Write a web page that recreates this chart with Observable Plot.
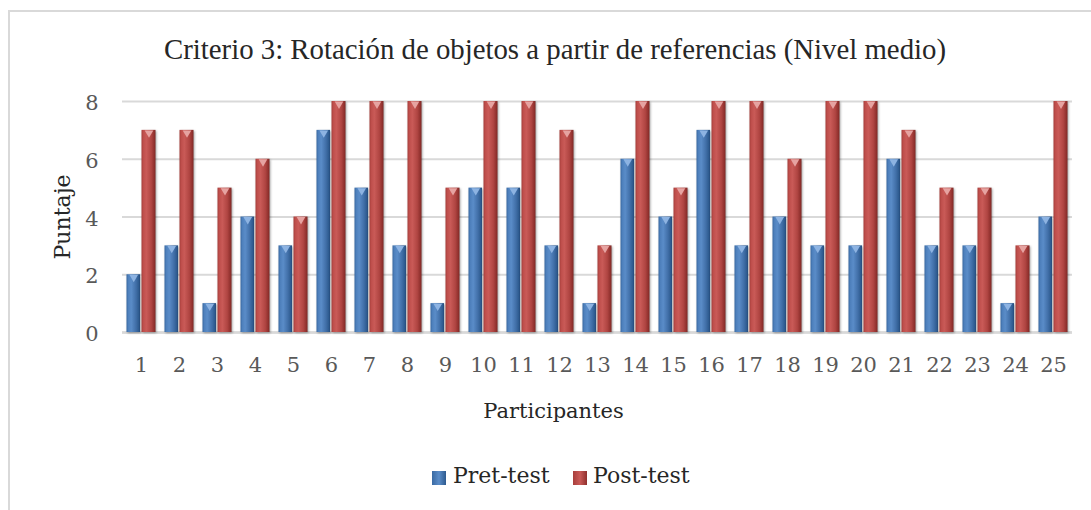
<!DOCTYPE html>
<html><head><meta charset="utf-8">
<script src="https://cdn.jsdelivr.net/npm/d3@7"></script>
<script src="https://cdn.jsdelivr.net/npm/@observablehq/plot@0.6"></script>
<style>
body{margin:0;background:#fff;}
#wrap{position:relative;width:1091px;height:510px;overflow:hidden;background:#fff;}
#frame{position:absolute;left:8px;top:10px;width:1200px;height:600px;border-top:2px solid #d9d9d9;border-left:2px solid #d9d9d9;box-sizing:border-box;}
#title{position:absolute;left:0;width:1110px;top:35px;text-align:center;font-family:"Liberation Serif";font-size:28.8px;line-height:29px;color:#262626;white-space:nowrap;}
#chart{position:absolute;left:0;top:0;}
.leg{position:absolute;font-family:"DejaVu Serif";font-size:22px;line-height:22px;color:#262626;white-space:nowrap;}
.sw{position:absolute;width:14px;height:14px;}
#chart g[aria-label="y-axis tick label"] text, #chart g[aria-label="x-axis tick label"] text{fill:#595959;}
#chart g[aria-label="y-axis label"] text{fill:#262626;}
#chart g[aria-label="bar"]{filter:drop-shadow(1.5px 1px 1px rgba(0,0,0,0.35));}
</style>
</head><body>
<div id="wrap">
  <div id="frame"></div>
  <div id="title">Criterio 3: Rotación de objetos a partir de referencias (Nivel medio)</div>
  <div id="chart"></div>
  <div id="legend"></div>
</div>
<script>
const participants = ["1","2","3","4","5","6","7","8","9","10","11","12","13","14","15","16","17","18","19","20","21","22","23","24","25"];
const pretest  = [2,3,1,4,3,7,5,3,1,5,5,3,1,6,4,7,3,4,3,3,6,3,3,1,4];
const posttest = [7,7,5,6,4,8,8,8,5,8,8,7,3,8,5,8,8,6,8,8,7,5,5,3,8];
const yTicks = [0,2,4,6,8];
const seriesNames = ["Pret-test","Post-test"];
const xTitle = "Participantes";
const yTitle = "Puntaje";

const preData = participants.map((p,i)=>({participant:p, value:pretest[i], series:seriesNames[0]}));
const postData = participants.map((p,i)=>({participant:p, value:posttest[i], series:seriesNames[1]}));

const svg = Plot.plot({
  width:1091, height:440,
  marginTop:101, marginBottom:108, marginLeft:122, marginRight:19,
  style:{fontFamily:"DejaVu Serif", fontSize:"21px", background:"transparent", overflow:"visible"},
  x:{domain:participants, padding:0},
  y:{domain:[0,8]},
  marks:[
    Plot.gridY(yTicks, {stroke:"#d9d9d9", strokeOpacity:1, strokeWidth:2}),
    Plot.ruleY([0], {stroke:"#d9d9d9", strokeWidth:2.5}),
    Plot.barY(preData, {x:"participant", y:"value", fill:"url(#gBlue)", insetLeft:4.5, insetRight:20}),
    Plot.barY(postData, {x:"participant", y:"value", fill:"url(#gRed)", insetLeft:19.5, insetRight:4.5}),
    Plot.dot(preData, {x:"participant", y:"value", symbol:"triangle", rotate:180, r:3.2, fill:"#8db3e2", dx:-7.75, dy:2.5, stroke:"none"}),
    Plot.dot(postData, {x:"participant", y:"value", symbol:"triangle", rotate:180, r:3.2, fill:"#e6a3a1", dx:7.5, dy:2.5, stroke:"none"}),
    Plot.axisY(yTicks, {tickSize:0, tickPadding:24, label:null, fontSize:21, dy:2}),
    Plot.axisY({ticks:[], tickSize:0, label:yTitle, labelArrow:"none", labelAnchor:"center", labelOffset:68, fontSize:22}),
    Plot.axisX({tickSize:0, tickPadding:25, label:null, fontSize:21}),
    Plot.text([xTitle], {text:d=>d, frameAnchor:"bottom", dx:-44, dy:85, fontSize:21, fill:"#262626"})
  ]
});

const ns = "http://www.w3.org/2000/svg";
const defs = document.createElementNS(ns, "defs");
function grad(id, stops){
  const g = document.createElementNS(ns, "linearGradient");
  g.setAttribute("id", id);
  g.setAttribute("x1","0"); g.setAttribute("x2","1"); g.setAttribute("y1","0"); g.setAttribute("y2","0");
  stops.forEach(([o,c])=>{
    const s = document.createElementNS(ns, "stop");
    s.setAttribute("offset", o); s.setAttribute("stop-color", c);
    g.appendChild(s);
  });
  defs.appendChild(g);
}
grad("gBlue", [[0,"#3a6aa3"],[0.15,"#4f81bd"],[0.35,"#5a8cc8"],[0.7,"#416fa8"],[0.92,"#2d5a8e"],[1,"#24497a"]]);
grad("gRed", [[0,"#a83f3c"],[0.15,"#c0504d"],[0.35,"#c95a57"],[0.7,"#b04542"],[0.92,"#8f302d"],[1,"#7a2522"]]);
svg.insertBefore(defs, svg.firstChild);
document.getElementById("chart").appendChild(svg);

// legend
const legend = document.getElementById("legend");
const legPos = [{sw:432, tx:453}, {sw:573, tx:593}];
seriesNames.forEach((name,i)=>{
  const sw = document.createElement("div");
  sw.className = "sw";
  sw.style.left = legPos[i].sw + "px";
  sw.style.top = "471px";
  sw.style.background = `linear-gradient(to right, ${i? "#a83f3c,#c95a57,#8f302d" : "#3a6aa3,#5a8cc8,#2d5a8e"})`;
  legend.appendChild(sw);
  const t = document.createElement("div");
  t.className = "leg";
  t.style.left = legPos[i].tx + "px";
  t.style.top = "465px";
  t.textContent = name;
  legend.appendChild(t);
});
</script>
</body></html>
